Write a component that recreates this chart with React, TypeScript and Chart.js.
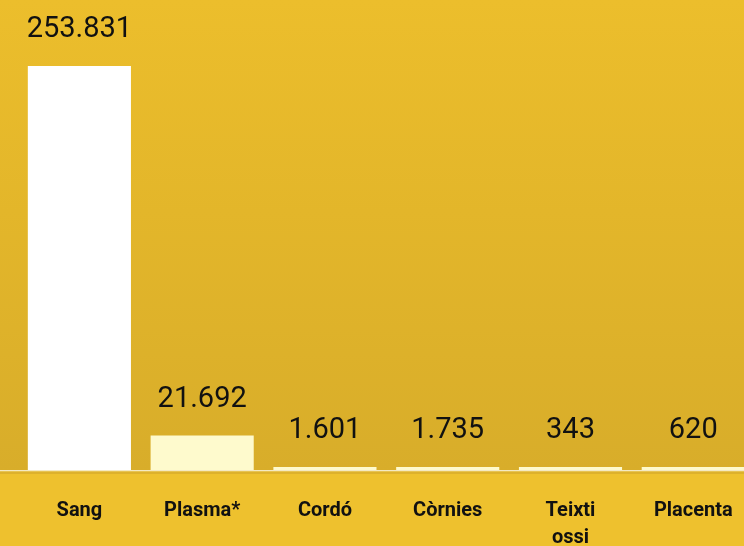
import React, { useEffect, useRef } from "react";
import { Chart, registerables } from "chart.js";

Chart.register(...registerables);

const categories: (string | string[])[] = ["Sang", "Plasma*", "Cordó", "Còrnies", ["Teixti", "ossi"], "Placenta"];
const values: number[] = [253831, 21692, 1601, 1735, 343, 620];
const barColors: string[] = ["#FFFFFF", "#FEFACD", "#FEFACD", "#FEFACD", "#FEFACD", "#FEFACD"];

const fmt = (v: number) => String(v).replace(/\B(?=(\d{3})+(?!\d))/g, ".");

const bgPlugin = {
  id: "bgPlugin",
  beforeDraw(chart: any) {
    const { ctx, width, height, chartArea } = chart;
    const bottom = chartArea.bottom;
    ctx.save();
    const g = ctx.createLinearGradient(0, 0, 0, bottom);
    g.addColorStop(0, "#ECBE2C");
    g.addColorStop(0.45, "#E3B62A");
    g.addColorStop(1, "#D8AD2A");
    ctx.fillStyle = g;
    ctx.fillRect(0, 0, width, bottom);
    ctx.fillStyle = "#EEC12E";
    ctx.fillRect(0, bottom, width, height - bottom);
    ctx.fillStyle = "#F4E9C2";
    ctx.fillRect(0, bottom, width, 1.5);
    ctx.fillStyle = "#DDB12C";
    ctx.fillRect(0, bottom + 1.5, width, 2.5);
    ctx.restore();
  },
};

const labelPlugin = {
  id: "labelPlugin",
  afterDatasetsDraw(chart: any) {
    const { ctx } = chart;
    const meta = chart.getDatasetMeta(0);
    ctx.save();
    ctx.font = "29px Roboto";
    ctx.fillStyle = "#111111";
    ctx.textAlign = "center";
    ctx.textBaseline = "middle";
    meta.data.forEach((bar: any, i: number) => {
      ctx.fillText(fmt(values[i]), bar.x, bar.y - 36);
    });
    ctx.restore();
  },
};

export default function App() {
  const ref = useRef<HTMLCanvasElement>(null);
  useEffect(() => {
    if (!ref.current) return;
    const chart = new Chart(ref.current, {
      type: "bar",
      data: {
        labels: categories,
        datasets: [
          {
            data: values,
            backgroundColor: barColors,
            borderWidth: 0,
            barPercentage: 0.84,
            categoryPercentage: 1,
            minBarLength: 3,
          },
        ],
      },
      options: {
        responsive: false,
        animation: false,
        devicePixelRatio: 1,
        layout: { padding: { left: 18, right: 4, top: 0, bottom: 0 } },
        plugins: { legend: { display: false }, tooltip: { enabled: false } },
        scales: {
          x: {
            grid: { display: false, drawTicks: false },
            border: { display: false },
            ticks: {
              color: "#111111",
              font: { family: "Roboto", size: 20, weight: "bold", lineHeight: 1.35 },
              padding: 27,
              maxRotation: 0,
              autoSkip: false,
            },
            afterFit(scale: any) {
              scale.height = 76;
            },
          },
          y: {
            display: false,
            min: 0,
            max: 295300,
          },
        },
      },
      plugins: [bgPlugin, labelPlugin],
    });
    return () => chart.destroy();
  }, []);
  return (
    <div style={{ position: "absolute", left: 0, top: 0, width: 744, height: 546, overflow: "hidden" }}>
      <canvas ref={ref} width={760} height={546} style={{ display: "block" }} />
    </div>
  );
}
